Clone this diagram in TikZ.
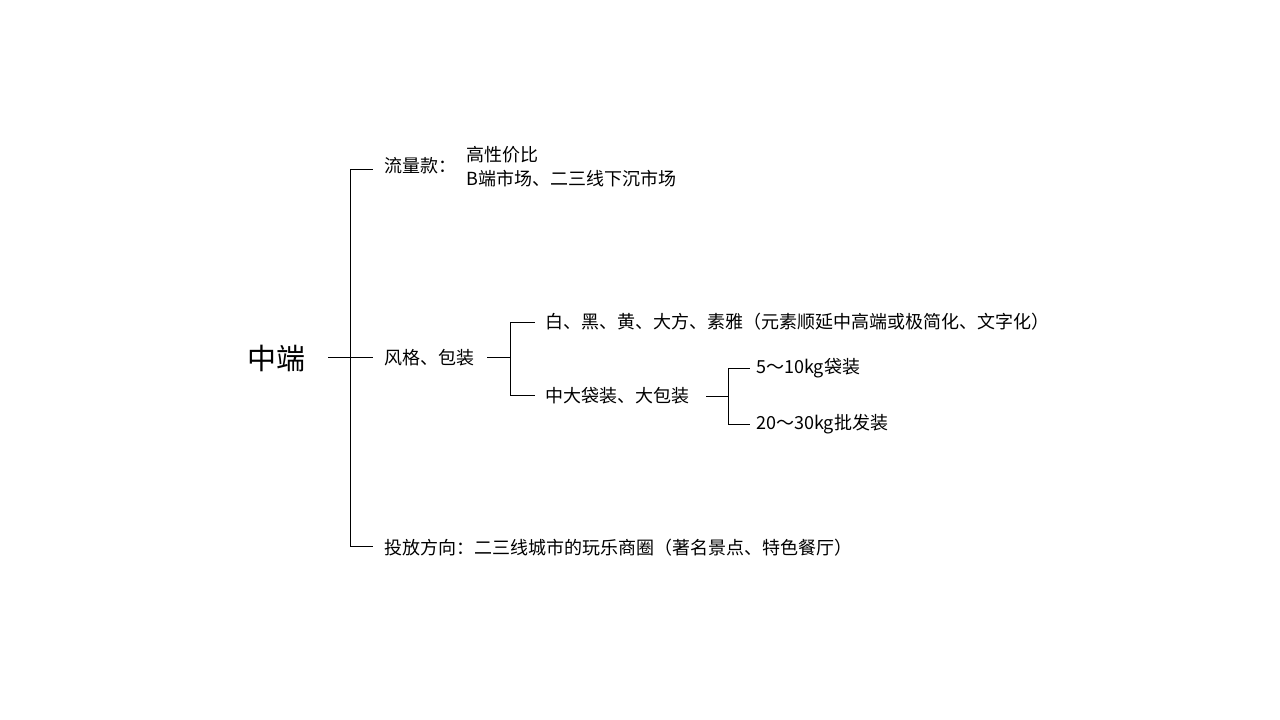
\documentclass[tikz,border=0pt]{standalone}
\usepackage{fontspec}
\setmainfont{Noto Sans CJK SC}
\begin{document}
\begin{tikzpicture}[x=1pt,y=-1pt,
  lbl/.style={anchor=west,inner sep=0pt,font=\fontsize{18}{20}\selectfont},
  ln/.style={line width=0.8pt,black}]
\useasboundingbox (0,0) rectangle (1280,720);
\node[inner sep=0pt,font=\fontsize{29}{32}\selectfont] (root) at (276,359) {中端};
\coordinate (r1) at (328,357); \coordinate (r2) at (350,357);
\coordinate (t) at (350,169); \coordinate (b) at (350,546);
\node[lbl] (a) at (384,166) {流量款：};
\node[lbl] (a1) at (466,155) {高性价比};
\node[lbl] (a2) at (466,179) {B端市场、二三线下沉市场};
\node[lbl] (s) at (384,358) {风格、包装};
\node[lbl] (d) at (384,548) {投放方向：二三线城市的玩乐商圈（著名景点、特色餐厅）};
\draw[ln] (r1) -- (373,357);
\draw[ln] (t) -- (b);
\draw[ln] (t) -- (373,169);
\draw[ln] (b) -- (373,546);
\node[lbl] (s1) at (545,322) {白、黑、黄、大方、素雅（元素顺延中高端或极简化、文字化）};
\node[lbl] (s2) at (545,396) {中大袋装、大包装};
\coordinate (v1) at (510,322); \coordinate (v2) at (510,395);
\draw[ln] (487,357) -- (510,357);
\draw[ln] (v1) -- (v2);
\draw[ln] (v1) -- (535,322);
\draw[ln] (v2) -- (535,395);
\node[lbl] (k1) at (756,368) {5～10kg袋装};
\node[lbl] (k2) at (756,424) {20～30kg批发装};
\coordinate (w1) at (728,368); \coordinate (w2) at (728,424);
\draw[ln] (706,396) -- (728,396);
\draw[ln] (w1) -- (w2);
\draw[ln] (w1) -- (750,368);
\draw[ln] (w2) -- (750,424);
\end{tikzpicture}
\end{document}
